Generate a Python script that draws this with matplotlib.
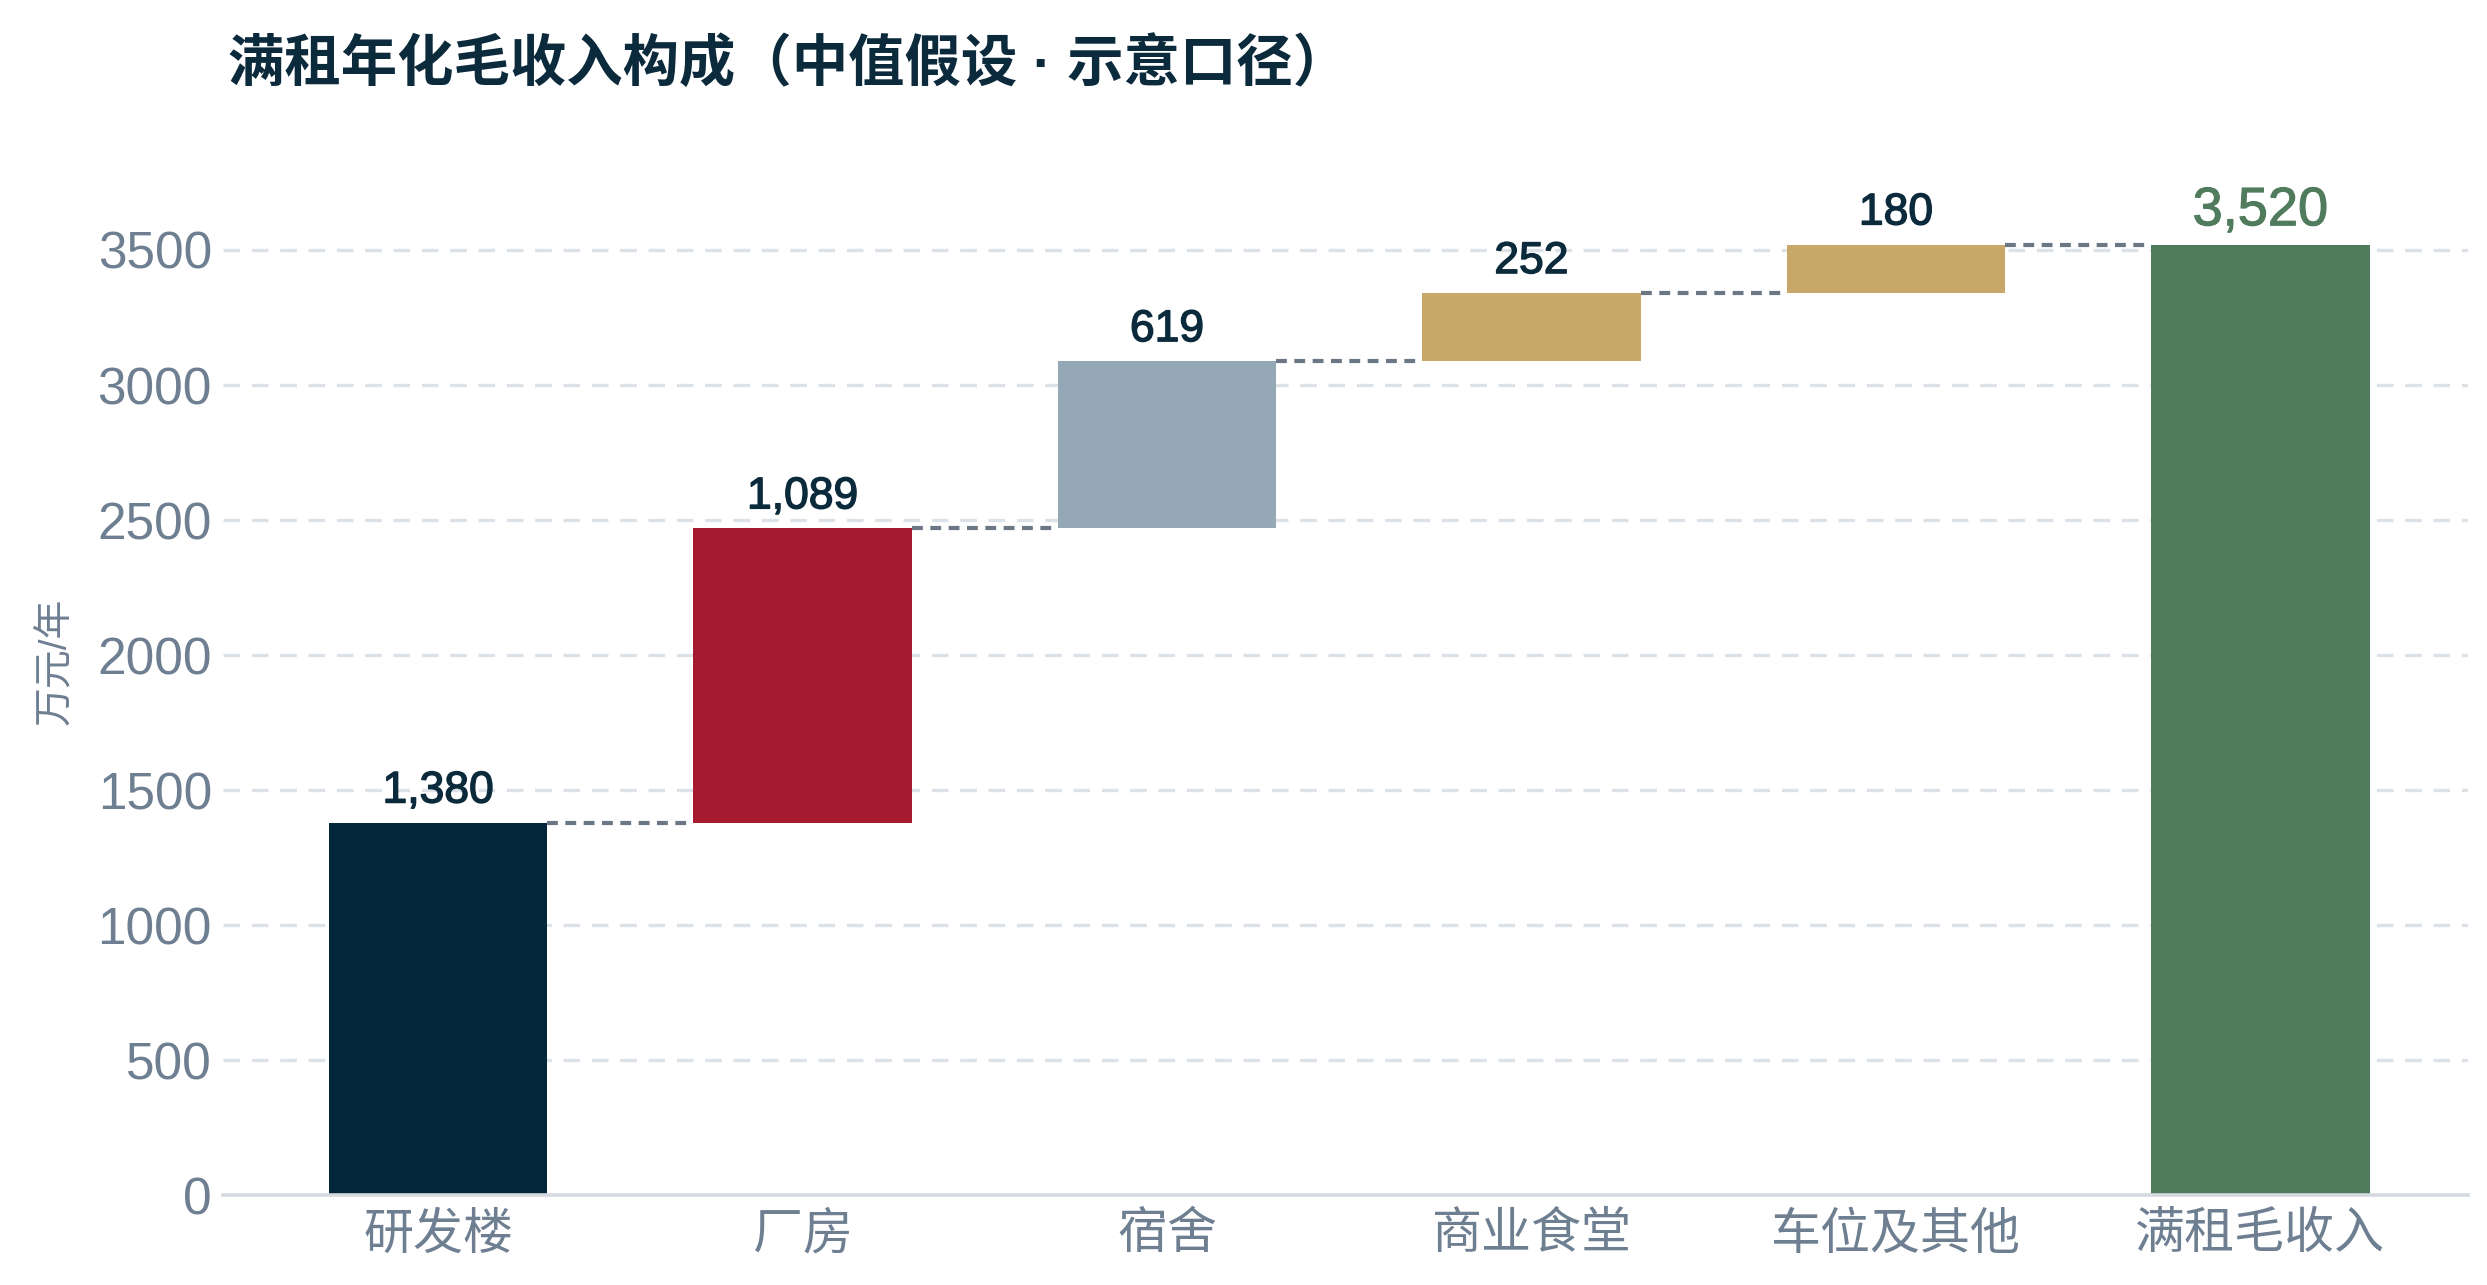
import numpy as np
import matplotlib
matplotlib.use("Agg")
import matplotlib.pyplot as plt
import matplotlib.patheffects as pe

# ---- data ----
categories = ["研发楼", "厂房", "宿舍", "商业食堂", "车位及其他", "满租毛收入"]
increments = [1380, 1089, 619, 252, 180]
total_value = 3520
y_ticks = [0, 500, 1000, 1500, 2000, 2500, 3000, 3500]
title_text = "满租年化毛收入构成（中值假设 · 示意口径）"
y_label = "万元/年"

# ---- style ----
bar_colors = ["#03263a", "#a61a2f", "#95a8b5", "#c8a86a", "#c8a86a", "#507b5c"]
navy = "#0b2a3c"
tick_grey = "#6e7f91"
grid_grey = "#dde2e8"
conn_grey = "#6b7785"
total_green = "#507b5c"

plt.rcParams['font.family'] = ['Liberation Sans', 'Noto Sans CJK SC', 'DejaVu Sans']

fig = plt.figure(figsize=(12.435, 6.425), dpi=200)
ax = fig.add_axes([0.0897, 0.0697, 0.9924 - 0.0897, 0.8475 - 0.0697])

x = np.arange(len(categories))
inc = np.array(increments, dtype=float)
bottoms = np.concatenate([[0], np.cumsum(inc)[:-1]])
tops = bottoms + inc
bar_w = 0.6

ax.bar(x[:-1], inc, bottom=bottoms, width=bar_w, color=bar_colors[:-1], zorder=3)
ax.bar(x[-1], total_value, width=bar_w, color=bar_colors[-1], zorder=3)

# connectors
levels = list(tops)
for i in range(len(categories) - 1):
    ax.plot([x[i] + bar_w / 2, x[i + 1] - bar_w / 2], [levels[i], levels[i]],
            color=conn_grey, lw=1.5, dashes=(2.6, 1.8), zorder=2, solid_capstyle='butt')

# value labels
for i, v in enumerate(increments):
    ax.annotate(f"{v:,}", (x[i], tops[i]), xytext=(0, 4), textcoords="offset points",
                ha="center", va="bottom", fontsize=16, color=navy,
                path_effects=[pe.withStroke(linewidth=0.5, foreground=navy)],
                annotation_clip=False)
ax.annotate(f"{total_value:,}", (x[-1], total_value), xytext=(0, 3), textcoords="offset points",
            ha="center", va="bottom", fontsize=19.5, color=total_green,
            path_effects=[pe.withStroke(linewidth=0.4, foreground=total_green)],
            annotation_clip=False)

ax.set_xlim(-0.59, 5.57)
ax.set_ylim(0, 3700)
ax.set_yticks(y_ticks)
ax.set_yticklabels([str(t) for t in y_ticks])
ax.set_xticks(x)
ax.set_xticklabels(categories)
ax.tick_params(axis='both', length=0, labelsize=18.5, labelcolor=tick_grey)
ax.tick_params(axis='x', labelsize=18, pad=6)
ax.tick_params(axis='y', pad=4)

for s in ["top", "right", "left"]:
    ax.spines[s].set_visible(False)
ax.spines["bottom"].set_color("#d5dae1")
ax.spines["bottom"].set_linewidth(1.3)
ax.spines["bottom"].set_zorder(4)

for t in y_ticks[1:]:
    ax.axhline(t, color=grid_grey, lw=1.2, dashes=(5, 3.5), zorder=1)

fig.text(0.0225, 0.4856, y_label, rotation=90, ha="center", va="center",
         fontsize=14, color=tick_grey)
fig.text(0.0917, 0.949, title_text, ha="left", va="center", fontsize=20.3,
         fontweight="bold", color=navy)

fig.savefig("out.png", dpi=200)
